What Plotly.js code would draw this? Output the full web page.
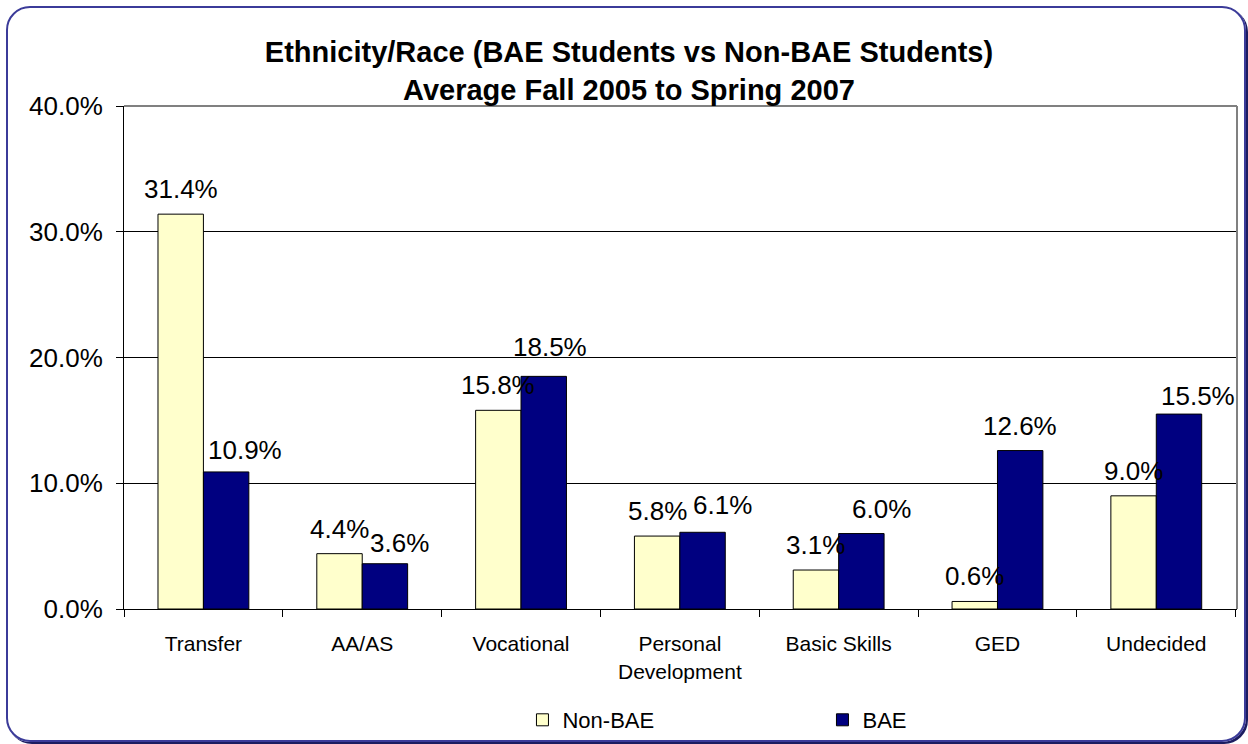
<!DOCTYPE html>
<html>
<head>
<meta charset="utf-8">
<script src="https://cdn.plot.ly/plotly-3.0.1.min.js"></script>
<style>
  html, body { margin: 0; padding: 0; background: #fff; }
  #wrap { position: relative; width: 1248px; height: 744px; }
  #chart { width: 1248px; height: 744px; }
  /* rounded chart frame */
  #frame {
    position: absolute; left: 6px; top: 6px; width: 1236px; height: 732px;
    border: 2px solid #3b3b99; border-radius: 24px;
    box-shadow: 2px 2px 0 #1c1c60; pointer-events: none;
  }
</style>
</head>
<body>
<div id="wrap"><div id="chart"></div><div id="frame"></div></div>
<script>
// Programme goal categories
const categories = ['Transfer', 'AA/AS', 'Vocational', 'Personal<br>Development', 'Basic Skills', 'GED', 'Undecided'];
// Share of students (%) per goal
const nonBae = [31.4, 4.4, 15.8, 5.8, 3.1, 0.6, 9.0];
const bae    = [10.9, 3.6, 18.5, 6.1, 6.0, 12.6, 15.5];
const seriesNames = ['Non-BAE', 'BAE'];
const yTicks = [0, 10, 20, 30, 40];

const FONT = 'Liberation Sans, Arial, sans-serif';
const BARGAP = 0.428;
const half = (1 - BARGAP) / 4;   // centre offset of each bar within its group

// pixel nudges for the BAE value labels [dx, dy]
const baeLabelNudge = [[19, -3], [15, -4], [6, 4], [20, 2], [20, 0], [0, 0], [19, -7]];

const traces = [
  { type: 'bar', name: seriesNames[0], x: categories, y: nonBae,
    marker: { color: '#FFFFCC', line: { color: '#000', width: 1 } }, hoverinfo: 'y' },
  { type: 'bar', name: seriesNames[1], x: categories, y: bae,
    marker: { color: '#000080', line: { color: '#000', width: 1 } }, hoverinfo: 'y' }
];

const annotations = [];
nonBae.forEach((v, i) => annotations.push({
  x: i - half, y: v, xref: 'x', yref: 'y', text: v.toFixed(1) + '%', showarrow: false,
  yanchor: 'bottom', yshift: 8, font: { family: FONT, size: 26, color: '#000' }
}));
bae.forEach((v, i) => annotations.push({
  x: i + half, y: v, xref: 'x', yref: 'y', text: v.toFixed(1) + '%', showarrow: false,
  yanchor: 'bottom', xshift: baeLabelNudge[i][0], yshift: 8 + baeLabelNudge[i][1],
  font: { family: FONT, size: 26, color: '#000' }
}));

const layout = {
  width: 1248, height: 744,
  margin: { l: 124, r: 11, t: 106, b: 135, autoexpand: false },
  paper_bgcolor: '#fff', plot_bgcolor: '#fff',
  font: { family: FONT, color: '#000' },
  title: {
    text: '<b>Ethnicity/Race (BAE Students vs Non-BAE Students)<br>Average Fall 2005 to Spring 2007</b>',
    font: { family: FONT, size: 29, color: '#000' },
    x: 0.504, xref: 'container', xanchor: 'center',
    y: 1 - 62 / 744, yref: 'container', yanchor: 'top'
  },
  barmode: 'group', bargap: BARGAP, bargroupgap: 0,
  xaxis: {
    type: 'category', tickson: 'boundaries', ticks: 'outside', ticklen: 7, tickcolor: '#000',
    showline: true, linecolor: '#000', linewidth: 1, showgrid: false,
    tickfont: { family: FONT, size: 21, color: '#000' }, ticklabelstandoff: 16,
    fixedrange: true
  },
  yaxis: {
    range: [0, 40], tickvals: yTicks, ticktext: yTicks.map(v => v.toFixed(1) + '%'),
    ticks: 'outside', ticklen: 7, tickcolor: '#000',
    showline: true, linecolor: '#000', linewidth: 1,
    showgrid: true, gridcolor: '#000', gridwidth: 1, zeroline: false,
    tickfont: { family: FONT, size: 26, color: '#000' }, ticklabelstandoff: 8,
    fixedrange: true
  },
  shapes: [
    { type: 'line', xref: 'paper', yref: 'paper', x0: 0, x1: 1, y0: 1, y1: 1,
      line: { color: '#808080', width: 2 }, layer: 'above' },
    { type: 'line', xref: 'paper', yref: 'paper', x0: 1, x1: 1, y0: 0, y1: 1,
      line: { color: '#808080', width: 2 }, layer: 'above' }
  ],
  showlegend: true,
  legend: {
    orientation: 'h', x: 0.358, xanchor: 'left', y: -0.2207, yanchor: 'middle',
    font: { family: FONT, size: 22, color: '#000' },
    entrywidth: 255, entrywidthmode: 'pixels', bgcolor: 'rgba(0,0,0,0)'
  },
  annotations: annotations
};

Plotly.newPlot('chart', traces, layout, { displayModeBar: false, staticPlot: true });
</script>
</body>
</html>
